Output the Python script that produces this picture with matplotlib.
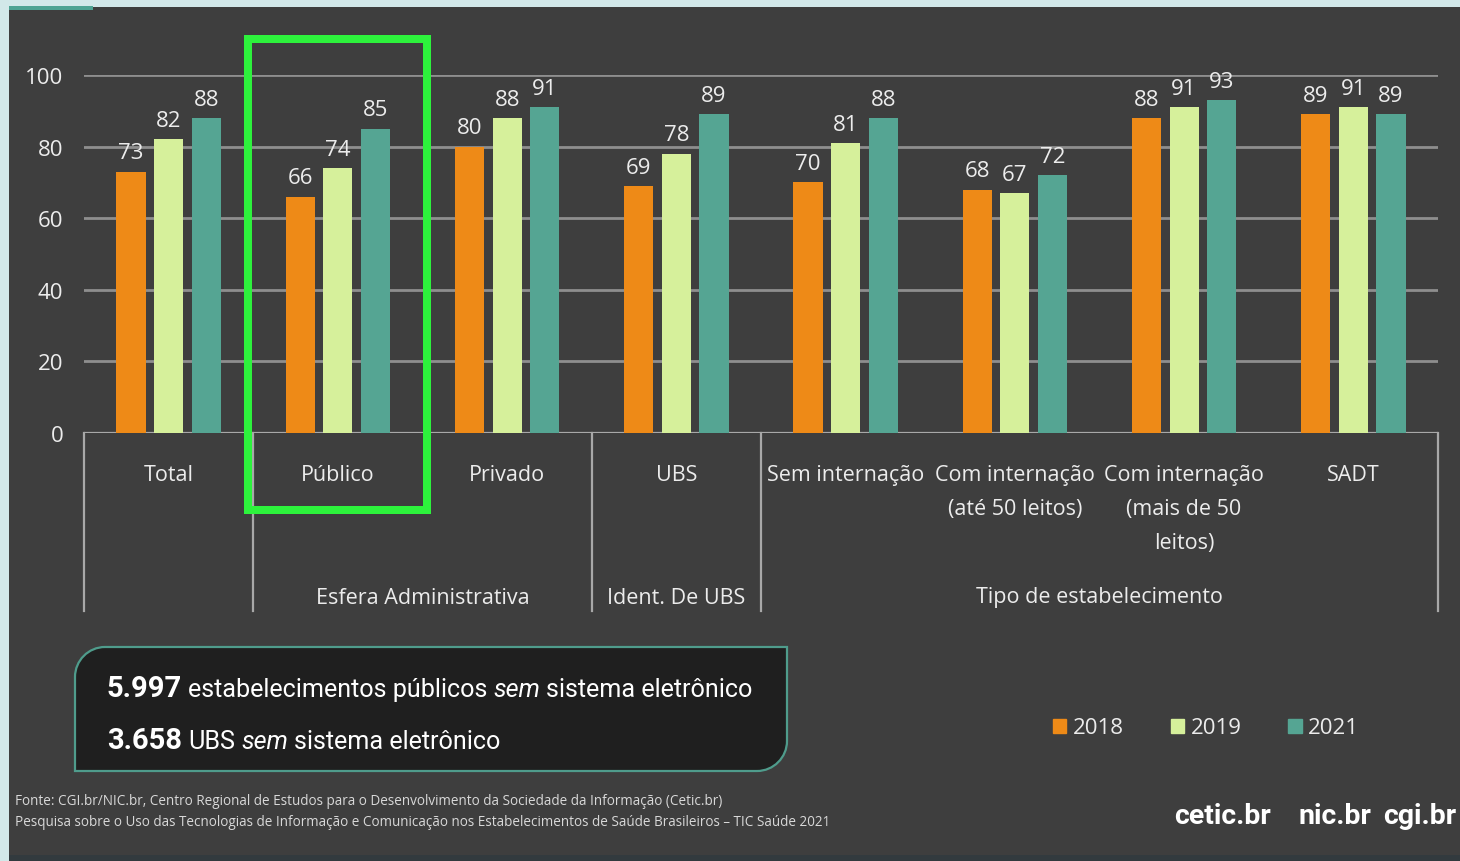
import matplotlib
matplotlib.use('Agg')
import matplotlib.pyplot as plt
from matplotlib import font_manager
from matplotlib.patches import Rectangle, PathPatch, Patch
from matplotlib.path import Path
import numpy as np

W, H = 1460, 862

categories = ['Total', 'Público', 'Privado', 'UBS', 'Sem internação',
              'Com internação\n(até 50 leitos)', 'Com internação\n(mais de 50\nleitos)', 'SADT']
groups = [('Esfera Administrativa', 1, 2), ('Ident. De UBS', 3, 3), ('Tipo de estabelecimento', 4, 7)]
separators = [-0.5, 0.5, 2.5, 3.5, 7.5]
years = ['2018', '2019', '2021']
v2018 = [73, 66, 80, 69, 70, 68, 88, 89]
v2019 = [82, 74, 88, 78, 81, 67, 91, 91]
v2021 = [88, 85, 91, 89, 88, 72, 93, 89]
colors = ['#ee8a17', '#d6f09b', '#55a593']

box_lines = [
    [('5.997', 'bold', 'normal'), ('estabelecimentos públicos', 'normal', 'normal'),
     ('sem', 'normal', 'italic'), ('sistema eletrônico', 'normal', 'normal')],
    [('3.658', 'bold', 'normal'), ('UBS', 'normal', 'normal'),
     ('sem', 'normal', 'italic'), ('sistema eletrônico', 'normal', 'normal')],
]
source = ['Fonte: CGI.br/NIC.br, Centro Regional de Estudos para o Desenvolvimento da Sociedade da Informação (Cetic.br)',
          'Pesquisa sobre o Uso das Tecnologias de Informação e Comunicação nos Estabelecimentos de Saúde Brasileiros – TIC Saúde 2021']
logos = [('cetic.br', 1174), ('nic.br', 1298), ('cgi.br', 1383)]

installed = {f.name for f in font_manager.fontManager.ttflist}


def pick(*names):
    for n in names:
        if n in installed:
            return n
    return 'DejaVu Sans'


chart_font = pick('Open Sans', 'Noto Sans', 'DejaVu Sans')
narrow_font = pick('Liberation Sans Narrow', 'Roboto', 'Liberation Sans')
plt.rcParams['font.family'] = [chart_font, 'DejaVu Sans']

txt = '#ececec'


def fx(x):
    return x / W


def fy(y):
    return 1 - y / H


fig = plt.figure(figsize=(W / 100, H / 100), dpi=100, facecolor='#d2e8e9')
fig.patches.append(Rectangle((fx(9), fy(856)), 1, fy(8) - fy(856), transform=fig.transFigure,
                             facecolor='#3e3e3e', edgecolor='none', zorder=-10))
fig.patches.append(Rectangle((fx(9), fy(862)), 1, fy(856) - fy(862), transform=fig.transFigure,
                             facecolor='#323a3e', edgecolor='none', zorder=-10))
fig.patches.append(Rectangle((fx(9), fy(11)), fx(93) - fx(9), fy(7) - fy(11), transform=fig.transFigure,
                             facecolor='#4ea393', edgecolor='none', zorder=-9))

ax = fig.add_axes([fx(84), fy(434), fx(1438) - fx(84), fy(76) - fy(434)])
ax.set_facecolor('none')
x = np.arange(len(categories))
pitch, bw = 0.222, 0.172
for i, (vals, col) in enumerate(zip([v2018, v2019, v2021], colors)):
    b = ax.bar(x + (i - 1) * pitch, vals, bw, color=col, label=years[i], zorder=3)
    for rect, v in zip(b, vals):
        ax.annotate(str(v), (rect.get_x() + rect.get_width() / 2, v), xytext=(0, 6),
                    textcoords='offset points', ha='center', va='bottom',
                    color=txt, fontsize=16, zorder=4)

ax.set_xlim(-0.5, 7.5)
ax.set_ylim(0, 100)
ax.set_yticks(range(0, 101, 20))
ax.set_xticks([])
ax.tick_params(axis='y', length=0, pad=15, labelsize=16, labelcolor=txt)
for s in ax.spines.values():
    s.set_visible(False)
for yv in range(20, 101, 20):
    ax.axhline(yv, color='#8e8e8e', lw=2, zorder=1)
ax.axhline(0, color='#a8a8a8', lw=1.6, zorder=2)

# category axis area below the plot
ax_h = 434 - 76
trans = ax.get_xaxis_transform()
for sx in separators:
    ax.plot([sx, sx], [0, -(612 - 434) / ax_h], transform=trans, color='#a8a8a8', lw=1.6,
            clip_on=False, zorder=2)
for xi, lab in zip(x, categories):
    ax.text(xi, -(465 - 434) / ax_h, lab, transform=trans, ha='center', va='top',
            color=txt, fontsize=15.5, linespacing=1.8)
for lab, a, b in groups:
    ax.text((a + b) / 2, -(598 - 434) / ax_h, lab, transform=trans, ha='center', va='center',
            color=txt, fontsize=15.5)

# highlight frame
fig.patches.append(Rectangle((fx(248), fy(511)), fx(427) - fx(248), fy(40) - fy(511),
                             transform=fig.transFigure, facecolor='none', edgecolor='#2df23c',
                             lw=8 * 0.72, zorder=5))

# legend
ax.legend(handles=[Patch(color=c, label=y) for c, y in zip(colors, years)],
          loc='center left', bbox_to_anchor=(fx(1033), fy(729)), bbox_transform=fig.transFigure,
          ncol=3, frameon=False, fontsize=16, labelcolor=txt, handlelength=0.6, handleheight=0.6,
          handletextpad=0.3, columnspacing=2.1)

# info box with two rounded corners
x0, x1, y0, y1, r = fx(75), fx(787), fy(772), fy(648), 30
rx, ry = r / W, r / H
k = 0.45
verts = [(x0, y0), (x1 - rx, y0), (x1 - rx * k, y0), (x1, y0 + ry * k), (x1, y0 + ry),
         (x1, y1), (x0 + rx, y1), (x0 + rx * k, y1), (x0, y1 - ry * k), (x0, y1 - ry), (x0, y0)]
codes = [Path.MOVETO, Path.LINETO, Path.CURVE4, Path.CURVE4, Path.CURVE4,
         Path.LINETO, Path.LINETO, Path.CURVE4, Path.CURVE4, Path.CURVE4, Path.CLOSEPOLY]
fig.patches.append(PathPatch(Path(verts, codes), transform=fig.transFigure,
                             facecolor='#1f1f1f', edgecolor='#4f9c8c', lw=1.6, zorder=2))

renderer = fig.canvas.get_renderer()
for line, base in zip(box_lines, [697, 749]):
    cx = 107
    for s, weight, style in line:
        t = fig.text(fx(cx), fy(base), s, family=[narrow_font, 'DejaVu Sans'],
                     fontsize=21 if weight == 'bold' else 18.1,
                     fontweight=weight, fontstyle=style, color='white', va='baseline', zorder=6)
        cx = t.get_window_extent(renderer).x1 + 6

for i, s in enumerate(source):
    fig.text(fx(15), fy(802 + i * 21), s, fontsize=9.75, color='#d8d8d8', va='center')

for s, lx in logos:
    fig.text(fx(lx), fy(817), s, family=[narrow_font, 'DejaVu Sans'], fontsize=20.5,
             fontweight='bold', color='white', va='center', ha='left')

fig.savefig('out.png', dpi=100, facecolor=fig.get_facecolor())
